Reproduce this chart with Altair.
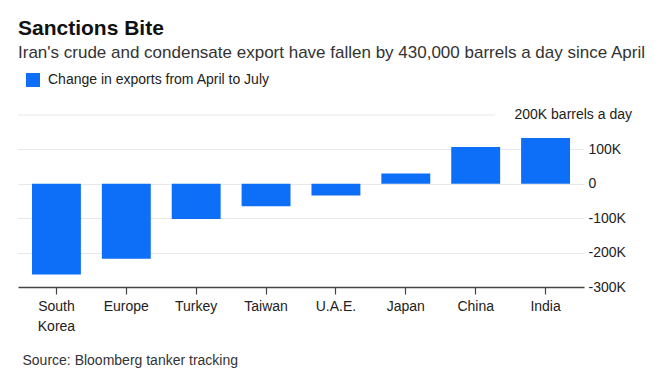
import altair as alt
import pandas as pd

countries = ["South Korea", "Europe", "Turkey", "Taiwan", "U.A.E.", "Japan", "China", "India"]
changes = [-264000, -218000, -102000, -65000, -34000, 30000, 107000, 133000]
series_name = "Change in exports from April to July"
y_ticks = [-300000, -200000, -100000, 0, 100000]
top_tick = [200000]
top_label = ["200K barrels a day"]

FONT = "Liberation Sans"
BLUE = "#0d6ef7"

df = pd.DataFrame({"country": countries, "change": changes, "series": series_name})
top_df = pd.DataFrame({"v": top_tick, "label": top_label})

yscale = alt.Scale(domain=[-300000, 200000], nice=False, zero=False)

y_axis = alt.Axis(
    title=None,
    orient="right",
    values=y_ticks,
    labelExpr="datum.value == 0 ? '0' : (datum.value / 1000) + 'K'",
    labelFont=FONT,
    labelFontSize=14,
    labelColor="#222222",
    labelPadding=4,
    labelAlign="left",
    ticks=False,
    domain=False,
    grid=True,
    gridColor="#e8e8e8",
    gridWidth=1,
)

bars = alt.Chart(df).mark_bar().encode(
    x=alt.X(
        "country:N",
        sort=countries,
        scale=alt.Scale(paddingInner=0.3, paddingOuter=0.2),
        axis=alt.Axis(
            title="Source: Bloomberg tanker tracking",
            titleAnchor="start",
            titleAlign="left",
            titleX=4,
            titleY=66,
            titleFont=FONT,
            titleFontSize=14,
            titleFontWeight="normal",
            titleColor="#333333",
            labelExpr="split(datum.label, ' ')",
            labelFont=FONT,
            labelFontSize=14,
            labelColor="#222222",
            labelAngle=0,
            labelPadding=5,
            labelLineHeight=20,
            labelBaseline="top",
            tickSize=7,
            tickColor="#444444",
            tickWidth=1.2,
            domainColor="#444444",
            domainWidth=1.5,
            grid=False,
        ),
    ),
    y=alt.Y("change:Q", scale=yscale, axis=y_axis),
    color=alt.Color(
        "series:N",
        scale=alt.Scale(range=[BLUE]),
        legend=alt.Legend(
            title=None,
            orient="none",
            legendX=8,
            legendY=-42,
            symbolType="square",
            symbolSize=196,
            symbolStrokeWidth=0,
            labelFont=FONT,
            labelFontSize=14,
            labelColor="#222222",
            labelOffset=8,
            labelLimit=400,
        ),
    ),
)

top_rule = alt.Chart(top_df).mark_rule(color="#e8e8e8", strokeWidth=1).encode(
    y=alt.Y("v:Q", scale=yscale, axis=y_axis),
    x=alt.value(0),
    x2=alt.value(477),
)

top_text = alt.Chart(top_df).mark_text(
    align="right", baseline="middle", font=FONT, fontSize=14, color="#222222"
).encode(
    y=alt.Y("v:Q", scale=yscale, axis=y_axis),
    x=alt.value(614),
    text="label:N",
)

chart = (
    alt.layer(bars, top_rule, top_text)
    .properties(
        width=566,
        height=172,
        background="white",
        padding={"left": 10, "top": 107, "right": 77, "bottom": 97},
        autosize=alt.AutoSizeParams(type="none"),
        title=alt.Title(
            "Sanctions Bite",
            subtitle="Iran's crude and condensate export have fallen by 430,000 barrels a day since April",
            anchor="start",
            frame="group",
            font=FONT,
            fontSize=21,
            fontWeight="bold",
            color="#111111",
            subtitleFont=FONT,
            subtitleFontSize=17,
            subtitleColor="#333333",
            subtitlePadding=6,
            offset=12,
        ),
    )
    .configure_view(stroke="transparent", strokeWidth=0)
)

chart.save("out.html", embed_options={"renderer": "svg", "actions": False})
